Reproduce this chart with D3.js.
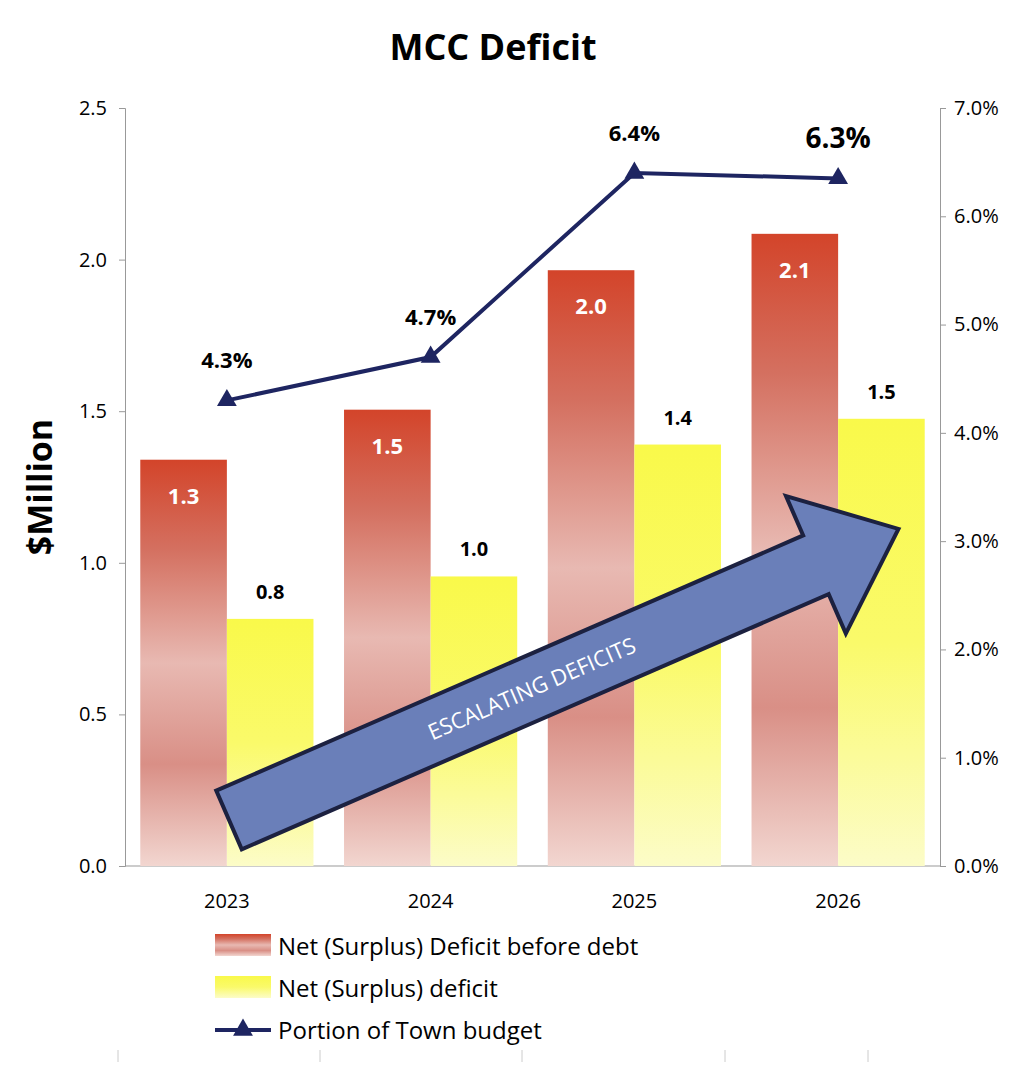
<!DOCTYPE html>
<html lang="en">
  <head>
    <meta charset="utf-8" />
    <title>MCC Deficit</title>
    <script src="https://cdn.jsdelivr.net/npm/d3@7/dist/d3.min.js"></script>
    <style>
      body { margin: 0; background: #fff; }
      text { font-family: "Open Sans", "Liberation Sans", sans-serif; }
    </style>
  </head>
  <body>
    <div id="chart"></div>
    <script>
      const years = ["2023", "2024", "2025", "2026"];
      const beforeDebt = [1.34, 1.505, 1.965, 2.085];
      const netDeficit = [0.815, 0.955, 1.39, 1.475];
      const townPortion = [4.3, 4.7, 6.4, 6.35];
      const leftTicks = [0, 0.5, 1.0, 1.5, 2.0, 2.5];
      const rightTicks = [0, 1, 2, 3, 4, 5, 6, 7];

      const w = 1024, h = 1067;
      const pLeft = 125, pRight = 940, pTop = 108, pBottom = 866;

      const svg = d3.select("#chart").append("svg").attr("width", w).attr("height", h);
      const defs = svg.append("defs");

      const redGrad = defs.append("linearGradient").attr("id", "redGrad")
        .attr("x1", 0).attr("y1", 0).attr("x2", 0).attr("y2", 1);
      [[0, "#d3442a"], [0.22, "#d47060"], [0.5, "#e8b9b2"], [0.75, "#d98f86"], [1, "#f2d6d0"]]
        .forEach(s => redGrad.append("stop").attr("offset", s[0]).attr("stop-color", s[1]));

      const yelGrad = defs.append("linearGradient").attr("id", "yelGrad")
        .attr("x1", 0).attr("y1", 0).attr("x2", 0).attr("y2", 1);
      [[0, "#f9f94a"], [0.5, "#fafa6a"], [1, "#fcfcc8"]]
        .forEach(s => yelGrad.append("stop").attr("offset", s[0]).attr("stop-color", s[1]));

      const x = d3.scaleBand().domain(years).range([pLeft, pRight]).paddingInner(0.15).paddingOuter(0.075);
      const y = d3.scaleLinear().domain([0, 2.5]).range([pBottom, pTop]);
      const y2 = d3.scaleLinear().domain([0, 7]).range([pBottom, pTop]);
      const bw = x.bandwidth() / 2;

      // title
      svg.append("text").attr("x", 493).attr("y", 60).attr("text-anchor", "middle")
        .style("font-size", "36px").style("font-weight", "bold").text("MCC Deficit");

      // axes
      const axL = svg.append("g").attr("transform", `translate(${pLeft},0)`)
        .call(d3.axisLeft(y).tickValues(leftTicks).tickFormat(d3.format(".1f")).tickSize(6).tickPadding(12));
      const axR = svg.append("g").attr("transform", `translate(${pRight},0)`)
        .call(d3.axisRight(y2).tickValues(rightTicks).tickFormat(d => d.toFixed(1) + "%").tickSize(6).tickPadding(8));
      [axL, axR].forEach(a => {
        a.select(".domain").attr("stroke", "#999");
        a.selectAll(".tick line").attr("stroke", "#999");
        a.selectAll(".tick text").style("font-size", "20px").attr("fill", "#000")
          .style("font-family", "'Open Sans', sans-serif");
      });
      svg.append("line").attr("x1", pLeft).attr("x2", pRight).attr("y1", pBottom).attr("y2", pBottom).attr("stroke", "#999");

      svg.selectAll(".xlab").data(years).join("text")
        .attr("x", d => x(d) + x.bandwidth() / 2).attr("y", pBottom + 42)
        .attr("text-anchor", "middle").style("font-size", "20px").text(d => d);

      svg.append("text").attr("transform", `translate(52,${(pTop + pBottom) / 2}) rotate(-90)`)
        .attr("text-anchor", "middle").style("font-size", "34px").style("font-weight", "bold").text("$Million");

      // bars
      svg.selectAll(".red").data(beforeDebt).join("rect")
        .attr("x", (d, i) => x(years[i])).attr("y", d => y(d))
        .attr("width", bw).attr("height", d => pBottom - y(d)).attr("fill", "url(#redGrad)");
      svg.selectAll(".yel").data(netDeficit).join("rect")
        .attr("x", (d, i) => x(years[i]) + bw).attr("y", d => y(d))
        .attr("width", bw).attr("height", d => pBottom - y(d)).attr("fill", "url(#yelGrad)");

      svg.selectAll(".redlab").data(beforeDebt).join("text")
        .attr("x", (d, i) => x(years[i]) + bw / 2).attr("y", d => y(d) + 44)
        .attr("text-anchor", "middle").attr("fill", "#fff").style("font-size", "22px").style("font-weight", "bold")
        .text(d => d.toFixed(1));
      svg.selectAll(".yellab").data(netDeficit).join("text")
        .attr("x", (d, i) => x(years[i]) + bw * 1.5).attr("y", d => y(d) - 20)
        .attr("text-anchor", "middle").style("font-size", "20px").style("font-weight", "bold")
        .text(d => d.toFixed(1));

      // arrow annotation
      const g = svg.append("g").attr("transform", "translate(229,820) rotate(-23.5)");
      g.append("path")
        .attr("d", "M0,-32 L640,-32 L640,-75 L730,0 L640,75 L640,32 L0,32 Z")
        .attr("fill", "#6a7fb9").attr("stroke", "#1c2140").attr("stroke-width", 4).attr("stroke-linejoin", "miter");
      g.append("text").attr("x", 330).attr("y", 8).attr("text-anchor", "middle")
        .attr("fill", "#fff").style("font-size", "22px").text("ESCALATING DEFICITS");

      // line
      const cx = i => x(years[i]) + x.bandwidth() / 2;
      const line = d3.line().x((d, i) => cx(i)).y(d => y2(d));
      svg.append("path").datum(townPortion).attr("d", line)
        .attr("fill", "none").attr("stroke", "#1e2561").attr("stroke-width", 4);
      const tri = d3.symbol().type(d3.symbolTriangle).size(170);
      svg.selectAll(".tri").data(townPortion).join("path")
        .attr("d", tri).attr("fill", "#1e2561")
        .attr("transform", (d, i) => `translate(${cx(i)},${y2(d)})`);
      svg.selectAll(".pctlab").data(townPortion).join("text")
        .attr("x", (d, i) => cx(i)).attr("y", (d, i) => y2(d) - (i === 3 ? 30 : 32))
        .attr("text-anchor", "middle").style("font-weight", "bold")
        .style("font-size", (d, i) => i === 3 ? "28px" : "22px")
        .text(d => d.toFixed(1) + "%");

      // legend
      const legend = [
        { label: "Net (Surplus) Deficit before debt", type: "red" },
        { label: "Net (Surplus) deficit", type: "yel" },
        { label: "Portion of Town budget", type: "line" }
      ];
      const lg = svg.selectAll(".lg").data(legend).join("g")
        .attr("transform", (d, i) => `translate(215,${946 + i * 42})`);
      lg.filter(d => d.type !== "line").append("rect")
        .attr("x", 0).attr("y", -12).attr("width", 56).attr("height", 22)
        .attr("fill", d => d.type === "red" ? "url(#redGrad)" : "url(#yelGrad)");
      lg.filter(d => d.type === "line").append("line")
        .attr("x1", 0).attr("x2", 56).attr("y1", 0).attr("y2", 0).attr("stroke", "#1e2561").attr("stroke-width", 4);
      lg.filter(d => d.type === "line").append("path")
        .attr("d", tri).attr("fill", "#1e2561").attr("transform", "translate(28,0)");
      lg.append("text").attr("x", 63).attr("y", 9).style("font-size", "24px").text(d => d.label);

      // small faint ticks at bottom
      svg.selectAll(".bt").data([118, 320, 522, 725, 868]).join("line")
        .attr("x1", d => d).attr("x2", d => d).attr("y1", 1050).attr("y2", 1062)
        .attr("stroke", "#ccc");
    </script>
  </body>
</html>
